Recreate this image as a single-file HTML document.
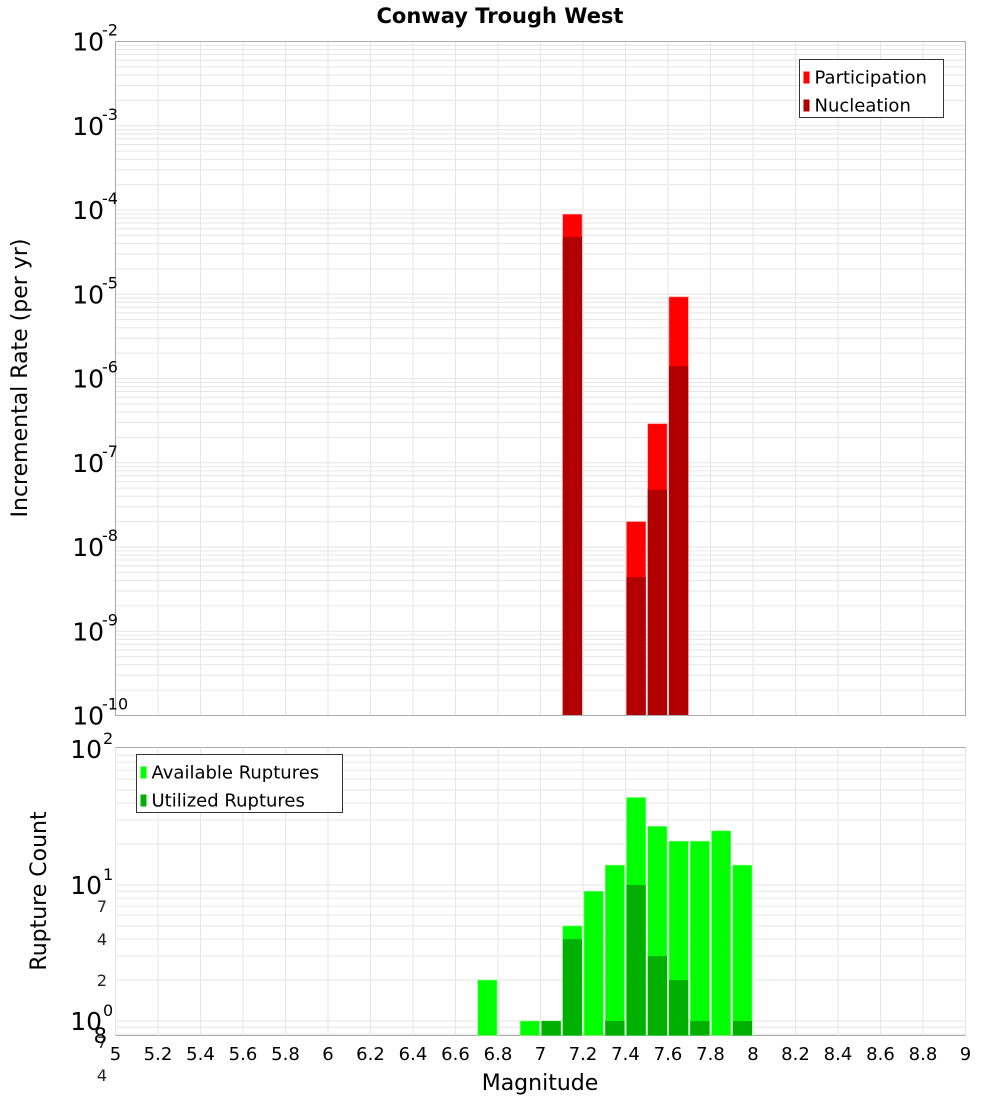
<!DOCTYPE html>
<html><head><meta charset="utf-8"><style>
body{margin:0;background:#fff;font-family:"Liberation Sans","DejaVu Sans",sans-serif}
svg{display:block}
</style></head><body>
<svg id="c" width="1000" height="1100" xmlns="http://www.w3.org/2000/svg" font-family="DejaVu Sans, Liberation Sans, sans-serif">
<text x="500" y="23" text-anchor="middle" font-size="21" font-weight="bold">Conway Trough West</text>
<text transform="translate(27,378) rotate(-90)" text-anchor="middle" font-size="22">Incremental Rate (per yr)</text>
<text transform="translate(46,891) rotate(-90)" text-anchor="middle" font-size="22">Rupture Count</text>
<text x="540" y="1090" text-anchor="middle" font-size="22">Magnitude</text>
<g id="topg"></g><g id="botg"></g><g id="xtg"></g>
</svg>
<script>
const rateMags=[7.15,7.45,7.55,7.65];
const participation=[8.9e-5,2.0e-8,2.9e-7,9.3e-6];
const nucleation=[4.8e-5,4.4e-9,4.8e-8,1.4e-6];
const countMags=[6.75,6.95,7.05,7.15,7.25,7.35,7.45,7.55,7.65,7.75,7.85,7.95];
const available=[2,1,1,5,9,14,44,27,21,21,25,14];
const utilized=[0,0,1,4,0,1,10,3,2,1,0,1];
const xTicks=[5,5.2,5.4,5.6,5.8,6,6.2,6.4,6.6,6.8,7,7.2,7.4,7.6,7.8,8,8.2,8.4,8.6,8.8,9];
const topExps=[-2,-3,-4,-5,-6,-7,-8,-9,-10];
const botMinor=[[7,'7'],[4,'4'],[2,'2'],[0.7,'7'],[0.4,'4'],[0.2,'2']];

const NS='http://www.w3.org/2000/svg';
const L=115.5,R=965.5;
const X=m=>L+(m-5)*(R-L)/4;
const TT=41.5,TB=715.5,BT=747.5,BB=1035.5;
const Yt=v=>TT+(-2-Math.log10(v))*(TB-TT)/8;
const bDec=136,Yb=v=>749+(2-Math.log10(v))*bDec;
function mk(p,t,a){const e=document.createElementNS(NS,t);for(const k in a)e.setAttribute(k,a[k]);p.appendChild(e);return e;}
const gTop=document.getElementById('topg'),gBot=document.getElementById('botg'),gX=document.getElementById('xtg');
function grids(g,t,b,yf,lo,hi){
  for(let e=lo;e<hi;e++)for(let k=1;k<10;k++){const y=yf(k*Math.pow(10,e));if(y<t-0.5||y>b+0.5)continue;
    const ln=mk(g,'line',{x1:L,x2:R,y1:y,y2:y,stroke:'#e6e6e6','stroke-width':1});
    
    }
  xTicks.forEach(m=>{const ln=mk(g,'line',{x1:X(m),x2:X(m),y1:t,y2:b,stroke:'#e6e6e6','stroke-width':1});
    
    });
}
grids(gTop,TT,TB,Yt,-10,-1);
grids(gBot,BT,BB,Yb,-1,2);
const bw=(R-L)/40;
rateMags.forEach((m,i)=>{
  const x=X(m)-bw/2+1;
  const p=mk(gTop,'rect',{x:x,y:Yt(participation[i]),width:bw-2,height:TB-Yt(participation[i]),fill:'#ff0000',stroke:'#ff8080','stroke-width':0.6});
  
  
  const n=mk(gTop,'rect',{x:x,y:Yt(nucleation[i]),width:bw-2,height:TB-Yt(nucleation[i]),fill:'#b20000'});
  
  
});
countMags.forEach((m,i)=>{
  const x=X(m)-bw/2+1;
  const a=mk(gBot,'rect',{x:x,y:Yb(available[i]),width:bw-2,height:BB-Yb(available[i]),fill:'#00ff00',stroke:'#80ff80','stroke-width':0.6});
  
  
  if(utilized[i]>0){const u=mk(gBot,'rect',{x:x,y:Yb(utilized[i]),width:bw-2,height:BB-Yb(utilized[i]),fill:'#00b000'});
  
  }
});
[[TT,TB],[BT,BB]].forEach(([t,b])=>{const f=mk(gTop,'rect',{x:L,y:t,width:R-L,height:b-t,fill:'none',stroke:'#aaaaaa','stroke-width':1});

});
topExps.forEach(e=>{const y=Yt(Math.pow(10,e));
  const t=mk(gTop,'text',{x:104,y:y+9,'text-anchor':'end','font-size':25});
  
  
  t.textContent='10';
  const s=mk(gTop,'text',{x:102,y:y-6,'font-size':16});
  
  
  s.textContent=String(e);
});
[[100,'2'],[10,'1'],[1,'0']].forEach(([v,e])=>{const y=Yb(v);
  const t=mk(gBot,'text',{x:102,y:y+9,'text-anchor':'end','font-size':25});
  
  
  t.textContent='10';
  const s=mk(gBot,'text',{x:103,y:y-5,'font-size':16});
  
  
  s.textContent=e;});
botMinor.forEach(([v,l])=>{const t=mk(gBot,'text',{x:107,y:Yb(v)+6,'text-anchor':'end','font-size':16,fill:'#222'});
  
  
  t.textContent=l;});
{const t=mk(gBot,'text',{x:107,y:1043,'text-anchor':'end','font-size':21});


t.textContent='8';}
xTicks.forEach(m=>{const t=mk(gX,'text',{x:X(m),y:1060,'text-anchor':'middle','font-size':18});
  
  
  t.textContent=String(m);});
function legend(g,x,y,w,h,items,name){
  const lg=mk(g,'g',{});
  
  
  mk(lg,'rect',{x:x,y:y,width:w,height:h,fill:'#fff',stroke:'#333','stroke-width':1});
  items.forEach(([c,txt],i)=>{
    mk(lg,'rect',{x:x+4,y:y+12+i*28,width:6,height:12,fill:c});
    const t=mk(lg,'text',{x:x+15,y:y+24+i*28,'font-size':18});
    
    
    t.textContent=txt;});
}
legend(gTop,799.5,59.5,144,58,[['#ff0000','Participation'],['#b20000','Nucleation']],'rate-legend');
legend(gBot,136.5,754.5,206,58,[['#00ff00','Available Ruptures'],['#00b000','Utilized Ruptures']],'count-legend');
</script>
</body></html>
